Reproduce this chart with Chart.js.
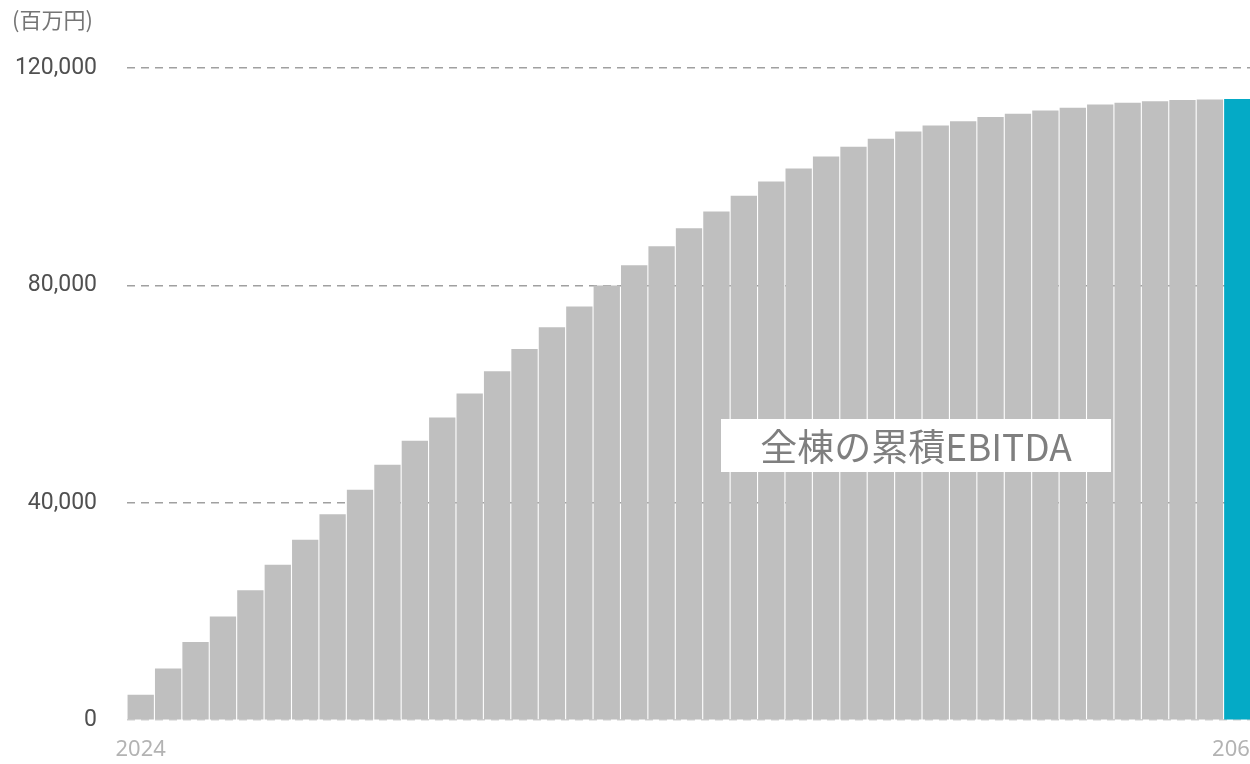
<!DOCTYPE html>
<html lang="ja">
<head>
<meta charset="utf-8">
<title>全棟の累積EBITDA</title>
<script src="https://cdn.jsdelivr.net/npm/chart.js@4.4.1/dist/chart.umd.min.js"></script>
<style>
    html, body {
        margin: 0;
        padding: 0;
        background: #ffffff;
        overflow: hidden;
    }
    .wrap {
        position: relative;
        width: 1250px;
        height: 764px;
        overflow: hidden;
    }
    .frame {
        position: absolute;
        left: 0;
        top: 0;
        width: 1290px;
        height: 764px;
    }
</style>
</head>
<body>
<div class="wrap">
    <div class="frame"><canvas id="ebitdaChart"></canvas></div>
</div>
<script>
/* globals Chart:false */

// Jahre (Kategorien)
const years = [
    '2024', '2025', '2026', '2027', '2028', '2029', '2030', '2031', '2032', '2033',
    '2034', '2035', '2036', '2037', '2038', '2039', '2040', '2041', '2042', '2043',
    '2044', '2045', '2046', '2047', '2048', '2049', '2050', '2051', '2052', '2053',
    '2054', '2055', '2056', '2057', '2058', '2059', '2060', '2061', '2062', '2063',
    '2064'
];

// kumulierte EBITDA aller Gebäude (百万円)
const cumulativeEbitda = [
    4700, 9500, 14400, 19100, 23900, 28600, 33200, 37900, 42400, 47000,
    51400, 55700, 60100, 64200, 68300, 72300, 76100, 80000, 83700, 87200,
    90500, 93600, 96500, 99100, 101500, 103700, 105500, 107000, 108300, 109400,
    110200, 111000, 111600, 112200, 112700, 113300, 113600, 113900, 114100, 114200,
    114300
];

// Y-Achse
const yTicks = [0, 40000, 80000, 120000];

const unitLabel = '(百万円)';
const seriesLabel = '全棟の累積EBITDA';

(() => {
    'use strict';

    const ctx = document.getElementById('ebitdaChart');

    const barGrey = '#bfbfbf';
    const lastBar = '#04aac6';

    // Beschriftungsbox mitten im Diagramm + Einheit oben links
    const labelPlugin = {
        id: 'labels',
        afterDatasetsDraw(chart) {
            const c = chart.ctx;
            const x = chart.scales.x;
            const y = chart.scales.y;

            c.save();
            c.font = '37px "Noto Sans CJK JP", "Noto Sans", sans-serif';
            const tw = c.measureText(seriesLabel).width;
            const cx = x.getPixelForValue(28.28);
            const cy = y.getPixelForValue(50500);
            const bw = tw + 78;
            const bh = 53;
            c.fillStyle = '#ffffff';
            c.fillRect(Math.round(cx - bw / 2), Math.round(cy - bh / 2), Math.round(bw), bh);
            c.fillStyle = '#7f7f7f';
            c.textAlign = 'center';
            c.textBaseline = 'middle';
            c.fillText(seriesLabel, cx, cy + 1);

            c.font = '22px "Noto Sans CJK JP", sans-serif';
            c.fillStyle = '#757575';
            c.textAlign = 'left';
            c.textBaseline = 'middle';
            c.fillText(unitLabel, 12, 20);
            c.restore();
        }
    };

    new Chart(ctx, {
        type: 'bar',
        data: {
            labels: years,
            datasets: [{
                label: seriesLabel,
                data: cumulativeEbitda,
                backgroundColor: cumulativeEbitda.map((v, i) => i === cumulativeEbitda.length - 1 ? lastBar : barGrey),
                borderWidth: 0,
                barPercentage: 0.96,
                categoryPercentage: 1
            }]
        },
        options: {
            responsive: true,
            maintainAspectRatio: false,
            animation: false,
            layout: {
                padding: { top: 68, right: 39, bottom: 0, left: 0 }
            },
            scales: {
                x: {
                    grid: { display: false, drawTicks: false },
                    border: { display: false },
                    ticks: {
                        autoSkip: false,
                        maxRotation: 0,
                        padding: 16,
                        color: '#b3b3b3',
                        font: { family: '"Noto Sans", sans-serif', size: 22 },
                        callback: function (value, index, ticks) {
                            if (index === 0 || index === ticks.length - 1) {
                                return this.getLabelForValue(value);
                            }
                            return '';
                        }
                    },
                    afterFit(scale) {
                        scale.height = 42;
                    }
                },
                y: {
                    min: 0,
                    max: 120000,
                    afterBuildTicks(scale) {
                        scale.ticks = yTicks.map(v => ({ value: v }));
                    },
                    grid: {
                        drawTicks: false,
                        lineWidth: 1.5,
                        color: c => c.tick && c.tick.value === 0 ? '#d0d0d0' : '#a0a0a0'
                    },
                    border: { display: false, dash: [8, 6] },
                    ticks: {
                        padding: 30,
                        color: '#505050',
                        font: { family: 'Roboto, sans-serif', size: 23 },
                        callback: v => v.toLocaleString('en-US')
                    },
                    afterFit(scale) {
                        scale.width = 127;
                    }
                }
            },
            plugins: {
                legend: { display: false },
                tooltip: { enabled: false }
            }
        },
        plugins: [labelPlugin]
    });
})();
</script>
</body>
</html>
